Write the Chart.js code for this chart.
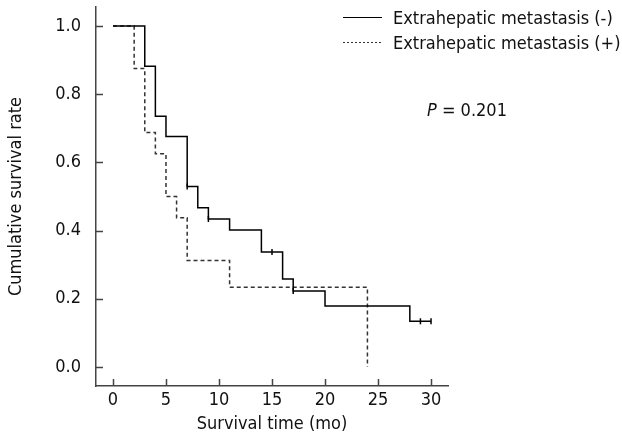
<!DOCTYPE html>
<html>
<head>
<meta charset="utf-8">
<script src="https://cdn.jsdelivr.net/npm/chart.js@4"></script>
<style>
  html, body { margin: 0; padding: 0; background: #fff; }
  #wrap { width: 622px; height: 441px; }
</style>
</head>
<body>
<div id="wrap"><canvas id="c" width="622" height="441"></canvas></div>
<script>
// Extrahepatic metastasis (-) : event times (mo) and survival after each step
const timesNeg = [0, 3, 4, 5, 7, 8, 9, 11, 14, 16, 17, 20, 28, 30];
const survNeg  = [1.0, 0.882, 0.735, 0.676, 0.529, 0.467, 0.434, 0.402, 0.337, 0.258, 0.223, 0.179, 0.134, 0.134];
// censored observations, group (-)
const censorTimesNeg = [7, 9, 15, 17, 29, 30];
const censorSurvNeg  = [0.529, 0.434, 0.337, 0.223, 0.134, 0.134];
// Extrahepatic metastasis (+)
const timesPos = [0, 2, 3, 4, 5, 6, 7, 11, 24];
const survPos  = [1.0, 0.875, 0.6875, 0.625, 0.5, 0.4375, 0.3125, 0.234, 0.0];
// axis ticks
const xTicks = [0, 5, 10, 15, 20, 25, 30];
const yTicks = [0.0, 0.2, 0.4, 0.6, 0.8, 1.0];
const seriesLabels = ['Extrahepatic metastasis (-)', 'Extrahepatic metastasis (+)'];
const pValueText = '0.201';

const FONT = "'DejaVu Sans Condensed', 'DejaVu Sans', sans-serif";
const toXY = (xs, ys) => xs.map((x, i) => ({ x: x, y: ys[i] }));

const overlay = {
  id: 'overlay',
  afterDraw(chart) {
    const ctx = chart.ctx;
    const xs = chart.scales.x, ys = chart.scales.y;
    const ca = chart.chartArea;
    ctx.save();
    // inward tick marks
    ctx.strokeStyle = '#444';
    ctx.lineWidth = 1.5;
    ctx.beginPath();
    xTicks.forEach(v => {
      const px = Math.round(xs.getPixelForValue(v)) + 0.5;
      ctx.moveTo(px, ca.bottom);
      ctx.lineTo(px, ca.bottom - 7);
    });
    yTicks.forEach(v => {
      const py = Math.round(ys.getPixelForValue(v)) + 0.5;
      ctx.moveTo(ca.left, py);
      ctx.lineTo(ca.left + 7, py);
    });
    ctx.stroke();

    // legend
    ctx.font = '18px ' + FONT;
    ctx.fillStyle = '#111';
    ctx.textBaseline = 'alphabetic';
    ctx.textAlign = 'left';
    ctx.strokeStyle = '#000';
    ctx.lineWidth = 1.2;
    ctx.setLineDash([]);
    ctx.beginPath(); ctx.moveTo(343, 17.5); ctx.lineTo(382, 17.5); ctx.stroke();
    ctx.fillText(seriesLabels[0], 393, 24);
    ctx.strokeStyle = '#333';
    ctx.lineWidth = 1;
    ctx.setLineDash([2, 2]);
    ctx.beginPath(); ctx.moveTo(343, 42.5); ctx.lineTo(382, 42.5); ctx.stroke();
    ctx.setLineDash([]);
    ctx.fillText(seriesLabels[1], 393, 49);

    // P value
    ctx.font = 'italic 18px ' + FONT;
    ctx.fillText('P', 427, 116);
    const pw = ctx.measureText('P').width;
    ctx.font = '18px ' + FONT;
    ctx.fillText(' = ' + pValueText, 427 + pw, 116);
    ctx.restore();
  }
};

new Chart(document.getElementById('c'), {
  type: 'line',
  data: {
    datasets: [
      {
        label: seriesLabels[0],
        data: toXY(timesNeg, survNeg),
        stepped: 'before',
        borderColor: '#000',
        borderWidth: 1.5,
        pointRadius: 0,
        fill: false
      },
      {
        label: seriesLabels[1],
        data: toXY(timesPos, survPos),
        stepped: 'before',
        borderColor: '#333',
        borderWidth: 1.5,
        borderDash: [4, 3],
        pointRadius: 0,
        fill: false
      },
      {
        label: 'censored',
        data: toXY(censorTimesNeg, censorSurvNeg),
        showLine: false,
        pointStyle: 'line',
        rotation: 90,
        pointRadius: 3,
        borderColor: '#000',
        borderWidth: 1.5,
        backgroundColor: '#000'
      }
    ]
  },
  options: {
    responsive: false,
    animation: false,
    events: [],
    layout: { padding: { top: 7, right: 174, left: 0, bottom: 0 } },
    plugins: { legend: { display: false }, tooltip: { enabled: false } },
    scales: {
      x: {
        type: 'linear',
        min: -1.6,
        max: 31.6,
        afterFit(s) { s.height = 55; s.paddingLeft = 0; s.paddingRight = 0; },
        afterBuildTicks(s) { s.ticks = xTicks.map(v => ({ value: v })); },
        grid: { display: false, drawTicks: false },
        border: { display: true, color: '#444', width: 1.5 },
        ticks: {
          padding: 4,
          color: '#111',
          font: { family: FONT, size: 18 },
          callback: v => String(v)
        },
        title: {
          display: true,
          text: 'Survival time (mo)',
          color: '#111',
          font: { family: FONT, size: 18 },
          padding: { top: 0, bottom: 6 }
        }
      },
      y: {
        type: 'linear',
        min: -0.0557,
        max: 1.0557,
        afterFit(s) { s.width = 96; s.paddingTop = 0; s.paddingBottom = 0; },
        afterBuildTicks(s) { s.ticks = yTicks.map(v => ({ value: v })); },
        grid: { display: false, drawTicks: false },
        border: { display: true, color: '#444', width: 1.5 },
        ticks: {
          padding: 15,
          color: '#111',
          font: { family: FONT, size: 18 },
          callback: v => Number(v).toFixed(1)
        },
        title: {
          display: true,
          text: 'Cumulative survival rate',
          color: '#111',
          font: { family: FONT, size: 18 },
          padding: { top: 6, bottom: 0 }
        }
      }
    }
  },
  plugins: [overlay]
});
</script>
</body>
</html>
